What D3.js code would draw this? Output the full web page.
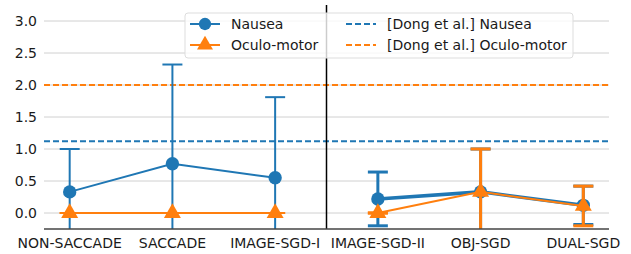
<!DOCTYPE html>
<html>
<head>
  <script src="https://cdnjs.cloudflare.com/ajax/libs/d3/7.8.5/d3.min.js"></script>
  <style>
    body { margin: 0; background: #fff; }
    text { font-family: "DejaVu Sans", sans-serif; fill: #1a1a1a; }
  </style>
</head>
<body>
<svg width="631" height="254"></svg>
<script>
var categories = ["NON-SACCADE", "SACCADE", "IMAGE-SGD-I", "IMAGE-SGD-II", "OBJ-SGD", "DUAL-SGD"];
var nauseaMean = [0.33, 0.77, 0.55, 0.22, 0.33, 0.12];
var nauseaErr  = [0.67, 1.55, 1.26, 0.42, 0.67, 0.30];
var oculoMean  = [0, 0, 0, 0, 0.33, 0.11];
var oculoErr   = [0, 0, 0, 0, 0.67, 0.31];
var dongNausea = 1.12, dongOculo = 2.0;
var yTicks = [0, 0.5, 1, 1.5, 2, 2.5, 3];
var groups = [[0, 1, 2], [3, 4, 5]];

var blue = "#1f77b4", orange = "#ff7f0e";
var svg = d3.select("svg"),
    margin = {top: 5, right: 22, bottom: 25, left: 44},
    width = +svg.attr("width") - margin.left - margin.right,
    height = +svg.attr("height") - margin.top - margin.bottom,
    g = svg.append("g").attr("transform", "translate(" + margin.left + "," + margin.top + ")");

var x = d3.scaleLinear().domain([-0.25, 5.25]).range([0, width]);
var y = d3.scaleLinear().domain([-0.25, 3.25]).range([height, 0]);

g.append("defs").append("clipPath").attr("id", "clip")
  .append("rect").attr("width", width).attr("height", height);

// grid
g.append("g").selectAll("line").data(yTicks).join("line")
    .attr("x1", 0).attr("x2", width)
    .attr("y1", d => y(d)).attr("y2", d => y(d))
    .attr("stroke", "#d0d0d0").attr("stroke-width", 1);

// y tick labels
g.append("g").selectAll("text").data(yTicks).join("text")
    .attr("x", -7).attr("y", d => y(d)).attr("dy", "0.35em")
    .attr("text-anchor", "end").attr("font-size", 14)
    .text(d => d.toFixed(1));

// x tick labels
g.append("g").selectAll("text").data(categories).join("text")
    .attr("x", (d, i) => x(i)).attr("y", height + 19)
    .attr("text-anchor", "middle").attr("font-size", 14)
    .text(d => d);

var plot = g.append("g").attr("clip-path", "url(#clip)");

// reference lines
[[dongNausea, blue], [dongOculo, orange]].forEach(function(r) {
  plot.append("line")
      .attr("x1", 0).attr("x2", width).attr("y1", y(r[0])).attr("y2", y(r[0]))
      .attr("stroke", r[1]).attr("stroke-width", 2).attr("stroke-dasharray", "6,3");
});

// divider
plot.append("line")
    .attr("x1", x(2.5)).attr("x2", x(2.5)).attr("y1", 0).attr("y2", height)
    .attr("stroke", "#000").attr("stroke-width", 1.5);

function series(mean, err, color, shape, lw, ebw, idx) {
  var s = plot.append("g");
  var line = d3.line().x(i => x(i)).y(i => y(mean[i]));
  idx.forEach(function(i) {
    var lo = y(mean[i] - err[i]), hi = y(mean[i] + err[i]);
    s.append("line").attr("x1", x(i)).attr("x2", x(i)).attr("y1", lo).attr("y2", hi)
        .attr("stroke", color).attr("stroke-width", ebw);
    [lo, hi].forEach(function(v) {
      s.append("line").attr("x1", x(i) - 10).attr("x2", x(i) + 10).attr("y1", v).attr("y2", v)
          .attr("stroke", color).attr("stroke-width", ebw);
    });
  });
  s.append("path").datum(idx).attr("d", line)
      .attr("fill", "none").attr("stroke", color).attr("stroke-width", lw);
  s.selectAll("path.m").data(idx).join("path").attr("class", "m")
      .attr("transform", i => "translate(" + x(i) + "," + y(mean[i]) + ")")
      .attr("d", d3.symbol().type(shape).size(shape === d3.symbolCircle ? 140 : 125))
      .attr("fill", color);
}

series(nauseaMean, nauseaErr, blue, d3.symbolCircle, 2, 2, groups[0]);
series(oculoMean, oculoErr, orange, d3.symbolTriangle, 2, 2, groups[0]);
series(nauseaMean, nauseaErr, blue, d3.symbolCircle, 3.5, 3, groups[1]);
series(oculoMean, oculoErr, orange, d3.symbolTriangle, 2, 3, groups[1]);

// bottom spine
g.append("line").attr("x1", 0).attr("x2", width).attr("y1", height).attr("y2", height)
    .attr("stroke", "#444").attr("stroke-width", 1.5);

// legend
var lg = svg.append("g").attr("transform", "translate(185,13)");
lg.append("rect").attr("width", 388).attr("height", 45).attr("rx", 3)
    .attr("fill", "#fff").attr("fill-opacity", 0.8).attr("stroke", "#ddd");
var items = [
  {label: "Nausea", color: blue, shape: d3.symbolCircle, dash: null, cx: 5, cy: 11},
  {label: "Oculo-motor", color: orange, shape: d3.symbolTriangle, dash: null, cx: 5, cy: 32},
  {label: "[Dong et al.] Nausea", color: blue, shape: null, dash: "6,3", cx: 161, cy: 11},
  {label: "[Dong et al.] Oculo-motor", color: orange, shape: null, dash: "6,3", cx: 161, cy: 32}
];
items.forEach(function(it) {
  lg.append("line").attr("x1", it.cx).attr("x2", it.cx + 30).attr("y1", it.cy).attr("y2", it.cy)
      .attr("stroke", it.color).attr("stroke-width", 2).attr("stroke-dasharray", it.dash);
  if (it.shape) {
    lg.append("path").attr("transform", "translate(" + (it.cx + 15) + "," + it.cy + ")")
        .attr("d", d3.symbol().type(it.shape).size(it.shape === d3.symbolCircle ? 120 : 110))
        .attr("fill", it.color);
  }
  lg.append("text").attr("x", it.cx + 41).attr("y", it.cy).attr("dy", "0.35em")
      .attr("font-size", 14).text(it.label);
});
</script>
</body>
</html>
